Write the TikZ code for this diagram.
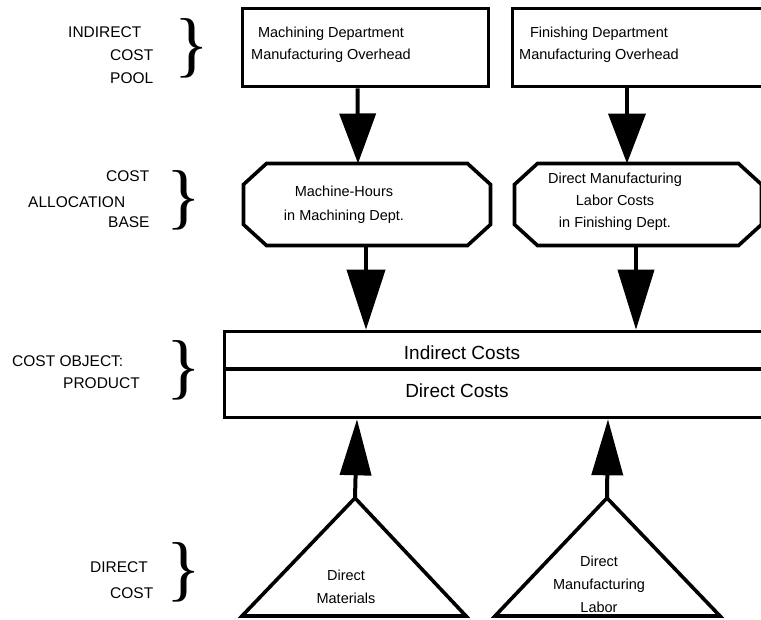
\documentclass[tikz,border=0pt]{standalone}
\usepackage{fontspec}
\setmainfont{Liberation Sans}
\newfontfamily\bracefont{Liberation Serif}
\usepackage{tikz}
\usetikzlibrary{arrows.meta}
\usetikzlibrary{positioning}
\tikzset{flow/.style 2 args = {line width = 4pt,
                               -{Triangle[length = #1, width = #2]}}}
\tikzset{pool/.style = {draw, rectangle, line width = 3.6pt, inner sep = 0,
                        minimum height = 78pt}}
\tikzset{base/.style = {rectangle, inner sep = 0, outer sep = 0,
                        minimum width = 247pt, minimum height = 82pt}}
\tikzset{side/.style = {anchor = west, align = left, inner sep = 0,
                        font = \fontsize{15.5pt}{23pt}\selectfont}}
\tikzset{inside/.style = {align = center, inner sep = 0,
                          font = \fontsize{14.5pt}{22pt}\selectfont}}
\tikzset{brace/.style = {inner sep = 0, font = \bracefont\fontsize{72pt}{72pt}\selectfont}}

% octagon outline round a base node
\newcommand{\chamferbox}[1]{%
  \draw [line width = 3.6pt, line join = miter]
    ([xshift = 23pt] #1.north west) -- ([xshift = -23pt] #1.north east)
    -- ([yshift = -21pt] #1.north east) -- ([yshift = 21pt] #1.south east)
    -- ([xshift = -23pt] #1.south east) -- ([xshift = 23pt] #1.south west)
    -- ([yshift = 21pt] #1.south west) -- ([yshift = -21pt] #1.north west) -- cycle;}

\begin{document}
\begin{tikzpicture}[x = 1pt, y = -1pt]
    \useasboundingbox (0, 0) rectangle (761, 619);
    \clip (0, 0) rectangle (761, 619);

    % row captions
    \node [side] (pool-lbl) at (68, 55) {INDIRECT\\\hspace*{42pt}COST\\\hspace*{42pt}POOL};
    \node [side] (base-lbl) at (28, 199) {\hspace*{78pt}COST\\[3pt]ALLOCATION\\[-3pt]\hspace*{80pt}BASE};
    \node [side] (obj-lbl) at (12, 372) {COST OBJECT:\\[-1pt]\hspace*{51pt}PRODUCT};
    \node [side] (dir-lbl) at (90, 580) {DIRECT\\[3pt]\hspace*{20pt}COST};
    \node [brace] (pool-br) at (191.5, 48) {\}};
    \node [brace] (base-br) at (183.5, 200) {\}};
    \node [brace] (obj-br) at (183.5, 370) {\}};
    \node [brace] (dir-br) at (183.5, 572.5) {\}};

    % overhead pools
    \node [pool, minimum width = 246pt] (mach) at (365.5, 47.5) {};
    \node [inside] (mach-txt) at (331, 45) {Machining Department\\Manufacturing Overhead};
    \node [pool, minimum width = 253pt] (fin) at (639, 47.5) {};
    \node [inside] (fin-txt) at (599, 45) {Finishing Department\\Manufacturing Overhead};

    % allocation bases
    \node [base] (mhours) at (367, 204.5) {};
    \chamferbox{mhours}
    \node [inside] (mhours-txt) at (344, 205) {Machine-Hours\\[2pt]in Machining Dept.};
    \node [base] (dlcost) at (638, 204.5) {};
    \chamferbox{dlcost}
    \node [inside] (dlcost-txt) at (615, 202) {Direct Manufacturing\\Labor Costs\\in Finishing Dept.};

    % product
    \node [pool, minimum width = 546pt, minimum height = 37.5pt] (indirect) at (497.5, 350.25) {};
    \node [pool, minimum width = 546pt, minimum height = 48.5pt] (direct) at (497.5, 393.25) {};
    \node [inside, font = \fontsize{19pt}{23pt}\selectfont] (indirect-txt) at (462, 353) {Indirect Costs};
    \node [inside, font = \fontsize{19pt}{23pt}\selectfont] (direct-txt) at (457, 391) {Direct Costs};

    % direct cost triangles
    \coordinate (dm) at (355, 498);
    \coordinate (dl) at (607, 498);
    \draw [line width = 3.6pt] (dm) -- (242, 616) -- (466, 616) -- cycle;
    \draw [line width = 3.6pt] (dl) -- (495, 616) -- (720, 616) -- cycle;
    \node [inside, font = \fontsize{14.5pt}{23pt}\selectfont] (dm-txt) at (346, 586.5) {Direct\\Materials};
    \node [inside, font = \fontsize{14.5pt}{23pt}\selectfont] (dl-txt) at (599, 584) {Direct\\Manufacturing\\Labor};

    \draw [flow = {50pt}{36pt}] ([xshift = -8pt] mach.south) -- ([xshift = -9pt] mhours.north);
    \draw [flow = {50pt}{37pt}] ([xshift = -12pt] fin.south) -- ([xshift = -11pt] dlcost.north);
    \draw [flow = {60pt}{38pt}] ([xshift = -1pt] mhours.south) -- ([xshift = -1pt] mhours.south |- indirect.north);
    \draw [flow = {60pt}{36pt}] ([xshift = -2pt] dlcost.south) -- ([xshift = -2pt] dlcost.south |- indirect.north);
    \draw [flow = {56pt}{31pt}] (dm) -- ([xshift = 2pt] dm |- direct.south);
    \draw [flow = {56pt}{31pt}] (dl) -- ([xshift = 1pt] dl |- direct.south);
\end{tikzpicture}
\end{document}
